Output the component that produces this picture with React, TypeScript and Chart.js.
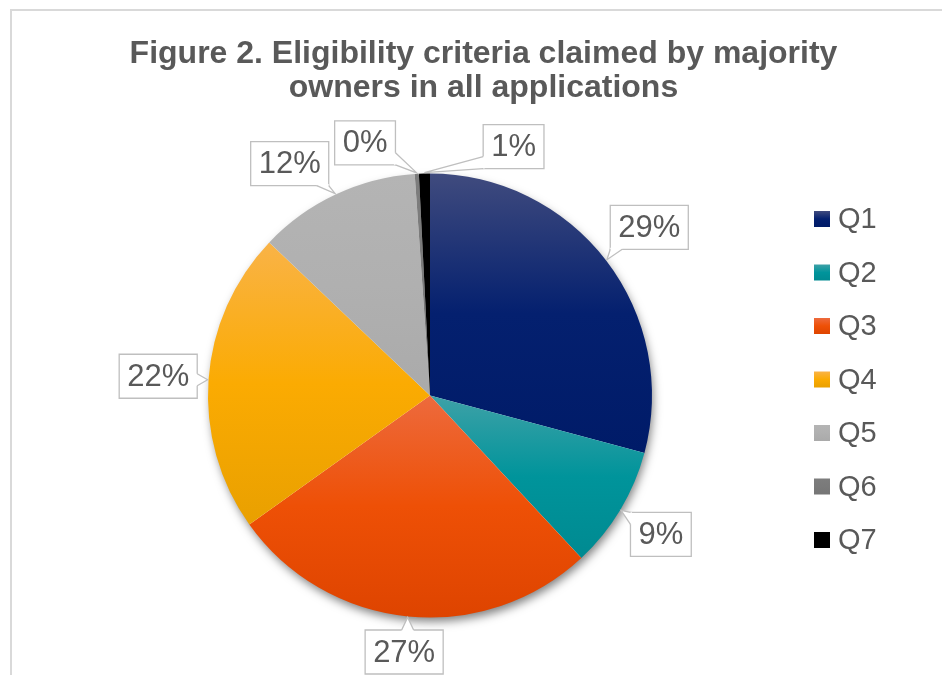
import React, { useEffect, useRef } from "react";
import { Chart, registerables } from "chart.js";

Chart.register(...registerables);

// ---------- data ----------
const categories = ["Q1", "Q2", "Q3", "Q4", "Q5", "Q6", "Q7"];
const shares = [29.2, 8.9, 27.1, 22.0, 11.8, 0.3, 0.8];
const titleLines = [
  "Figure 2. Eligibility criteria claimed by majority",
  "owners in all applications",
];
// top / middle / bottom colours of each slice's vertical gradient
const sliceGradients: string[][] = [
  ["#404b7e", "#04206f", "#001b68"],
  ["#3ea1a7", "#00949b", "#008a91"],
  ["#ed6a3d", "#ee5006", "#de4400"],
  ["#f9b347", "#fbab02", "#e9a000"],
  ["#b4b4b4", "#b0b0b0", "#aaaaaa"],
  ["#7d7d7d", "#7a7a7a", "#757575"],
  ["#000000", "#000000", "#000000"],
];
// angular nudge (degrees) of callouts to avoid overlaps at the top
const labelAngleNudges = [0, 0, 0, 0, -6, -11, 20];

const FONT = '"Liberation Sans", Arial, Helvetica, sans-serif';
const TEXT = "#595959";
const CALLOUT_BORDER = "#bfbfbf";

function makeGradient(ctx: CanvasRenderingContext2D, stops: string[], top: number, bottom: number) {
  const g = ctx.createLinearGradient(0, top, 0, Math.max(bottom, top + 1));
  g.addColorStop(0, stops[0]);
  g.addColorStop(0.5, stops[1]);
  g.addColorStop(1, stops[2]);
  return g;
}

function sliceYRange(chart: any, index: number): [number, number] {
  const area = chart.chartArea;
  const cy = (area.top + area.bottom) / 2;
  const r = Math.min(area.width, area.height) / 2;
  const values = chart.data.datasets[0].data as number[];
  const total = values.reduce((a, b) => a + b, 0);
  let start = 0;
  for (let i = 0; i < index; i++) start += (values[i] / total) * Math.PI * 2;
  const end = start + (values[index] / total) * Math.PI * 2;
  const ys = [cy, cy - r * Math.cos(start), cy - r * Math.cos(end)];
  if (start <= 1e-9 || end >= Math.PI * 2 - 1e-9) ys.push(cy - r);
  if (start <= Math.PI && end >= Math.PI) ys.push(cy + r);
  return [Math.min(...ys), Math.max(...ys)];
}

const shadowPlugin = {
  id: "pieShadow",
  beforeDatasetsDraw(chart: any) {
    const arc = chart.getDatasetMeta(0).data[0];
    if (!arc) return;
    const { x, y, outerRadius } = arc.getProps(["x", "y", "outerRadius"], true);
    const ctx = chart.ctx;
    ctx.save();
    ctx.shadowColor = "rgba(0,0,0,0.5)";
    ctx.shadowBlur = 10;
    ctx.shadowOffsetX = 2;
    ctx.shadowOffsetY = 5;
    ctx.beginPath();
    ctx.arc(x, y, outerRadius - 1, 0, Math.PI * 2);
    ctx.fillStyle = "#ffffff";
    ctx.fill();
    ctx.restore();
  },
};

const calloutPlugin = {
  id: "calloutLabels",
  afterDatasetsDraw(chart: any) {
    const ctx: CanvasRenderingContext2D = chart.ctx;
    const meta = chart.getDatasetMeta(0);
    const values = chart.data.datasets[0].data as number[];
    const total = values.reduce((a, b) => a + b, 0);
    const gap = 10;
    const padX = 8;
    const h = 44;
    const hw = 6;
    ctx.save();
    ctx.font = `31px ${FONT}`;
    meta.data.forEach((arc: any, i: number) => {
      const { x, y, startAngle, endAngle, outerRadius } = arc.getProps(
        ["x", "y", "startAngle", "endAngle", "outerRadius"],
        true
      );
      const text = Math.round((values[i] / total) * 100) + "%";
      const mid = (startAngle + endAngle) / 2;
      const a = mid + (labelAngleNudges[i] * Math.PI) / 180;
      const w = ctx.measureText(text).width + padX * 2;
      const ux = Math.cos(a);
      const uy = Math.sin(a);
      const d = outerRadius + gap + (Math.abs(ux) * w) / 2 + (Math.abs(uy) * h) / 2;
      const bx = x + ux * d;
      const by = y + uy * d;
      const left = bx - w / 2;
      const right = bx + w / 2;
      const top = by - h / 2;
      const bottom = by + h / 2;
      const ax = x + Math.cos(mid) * (outerRadius + 1);
      const ay = y + Math.sin(mid) * (outerRadius + 1);

      ctx.lineWidth = 1.3;
      ctx.strokeStyle = CALLOUT_BORDER;
      ctx.fillStyle = "#ffffff";
      ctx.beginPath();
      ctx.rect(left, top, w, h);
      ctx.fill();
      ctx.stroke();

      const outL = left - ax;
      const outR = ax - right;
      const outT = top - ay;
      const outB = ay - bottom;
      const m = Math.max(outL, outR, outT, outB);
      if (m > 0) {
        const clamp = (v: number, lo: number, hi: number) => Math.min(Math.max(v, lo), hi);
        let p1: number[], p2: number[], q1: number[], q2: number[];
        if (m === outL) {
          const c = clamp(ay, top + hw, bottom - hw);
          p1 = [left, c - hw]; p2 = [left, c + hw];
          q1 = [left + 1.5, c - hw]; q2 = [left + 1.5, c + hw];
        } else if (m === outR) {
          const c = clamp(ay, top + hw, bottom - hw);
          p1 = [right, c - hw]; p2 = [right, c + hw];
          q1 = [right - 1.5, c - hw]; q2 = [right - 1.5, c + hw];
        } else if (m === outT) {
          const c = clamp(ax, left + hw, right - hw);
          p1 = [c - hw, top]; p2 = [c + hw, top];
          q1 = [c - hw, top + 1.5]; q2 = [c + hw, top + 1.5];
        } else {
          const c = clamp(ax, left + hw, right - hw);
          p1 = [c - hw, bottom]; p2 = [c + hw, bottom];
          q1 = [c - hw, bottom - 1.5]; q2 = [c + hw, bottom - 1.5];
        }
        ctx.beginPath();
        ctx.moveTo(q1[0], q1[1]);
        ctx.lineTo(p1[0], p1[1]);
        ctx.lineTo(ax, ay);
        ctx.lineTo(p2[0], p2[1]);
        ctx.lineTo(q2[0], q2[1]);
        ctx.closePath();
        ctx.fill();
        ctx.beginPath();
        ctx.moveTo(p1[0], p1[1]);
        ctx.lineTo(ax, ay);
        ctx.lineTo(p2[0], p2[1]);
        ctx.stroke();
      }

      ctx.fillStyle = TEXT;
      ctx.textAlign = "center";
      ctx.textBaseline = "middle";
      ctx.fillText(text, bx, by + 1);
    });
    ctx.restore();
  },
};

const legendPlugin = {
  id: "sideLegend",
  afterDraw(chart: any) {
    const ctx: CanvasRenderingContext2D = chart.ctx;
    const boxX = 814;
    const firstY = 219;
    const step = 53.5;
    const size = 16;
    ctx.save();
    ctx.font = `29px ${FONT}`;
    ctx.textAlign = "left";
    ctx.textBaseline = "middle";
    (chart.data.labels as string[]).forEach((label, i) => {
      const cy = firstY + i * step;
      ctx.fillStyle = makeGradient(ctx, sliceGradients[i], cy - size / 2, cy + size / 2);
      ctx.fillRect(boxX, cy - size / 2, size, size);
      ctx.fillStyle = TEXT;
      ctx.fillText(label, boxX + 24, cy + 1);
    });
    ctx.restore();
  },
};

const titlePlugin = {
  id: "figureTitle",
  afterDraw(chart: any) {
    const ctx: CanvasRenderingContext2D = chart.ctx;
    ctx.save();
    ctx.font = `bold 32px ${FONT}`;
    ctx.fillStyle = TEXT;
    ctx.textAlign = "center";
    ctx.textBaseline = "alphabetic";
    titleLines.forEach((line, i) => {
      ctx.fillText(line, 483.5, 63 + i * 34);
    });
    ctx.restore();
  },
};

export default function App() {
  const canvasRef = useRef<HTMLCanvasElement | null>(null);

  useEffect(() => {
    const canvas = canvasRef.current;
    if (!canvas) return;
    const chart = new Chart(canvas, {
      type: "pie",
      data: {
        labels: categories,
        datasets: [
          {
            data: shares,
            backgroundColor: (c: any) => {
              const i = c.dataIndex;
              if (i === undefined) return sliceGradients[0][1];
              const ch = c.chart;
              if (!ch.chartArea) return sliceGradients[i][1];
              const [t, b] = sliceYRange(ch, i);
              return makeGradient(ch.ctx, sliceGradients[i], t, b);
            },
            borderWidth: 0,
            hoverOffset: 0,
          } as any,
        ],
      },
      options: {
        responsive: false,
        animation: false,
        events: [],
        layout: { padding: { left: 208, right: 290, top: 173.5, bottom: 57.5 } },
        plugins: {
          legend: { display: false },
          tooltip: { enabled: false },
          title: { display: false },
        },
      },
      plugins: [shadowPlugin, calloutPlugin, legendPlugin, titlePlugin],
    });
    return () => chart.destroy();
  }, []);

  return (
    <div
      style={{
        position: "absolute",
        left: 0,
        top: 0,
        width: 942,
        height: 675,
        background: "#ffffff",
        overflow: "hidden",
      }}
    >
      <div
        style={{
          position: "absolute",
          left: 10,
          top: 9,
          right: -4,
          bottom: -4,
          borderTop: "2px solid #d9d9d9",
          borderLeft: "2px solid #d9d9d9",
        }}
      />
      <canvas
        ref={canvasRef}
        width={942}
        height={675}
        style={{ position: "absolute", left: 0, top: 0, width: 942, height: 675 }}
      />
    </div>
  );
}
